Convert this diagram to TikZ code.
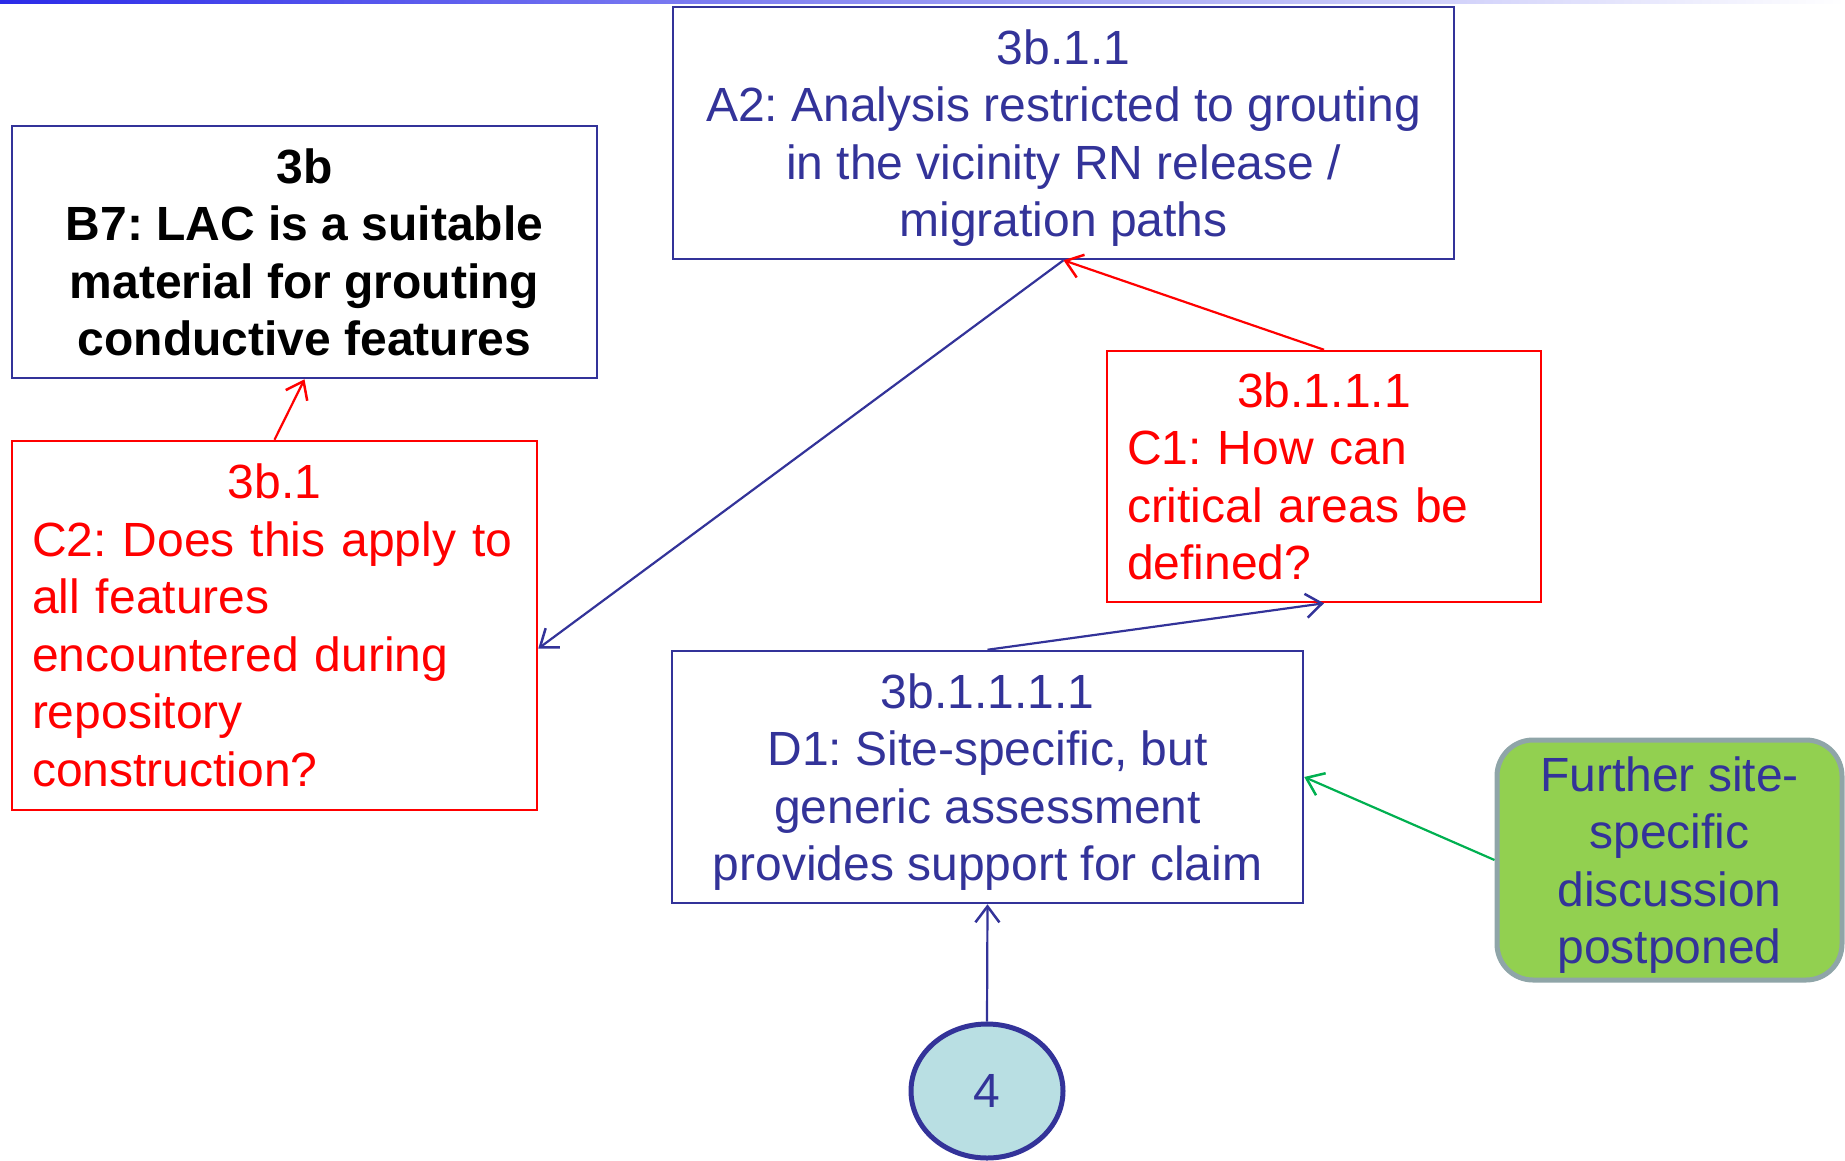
\documentclass[tikz,border=0pt]{standalone}
\usepackage{fontspec}
\setmainfont{Liberation Sans}
\usetikzlibrary{arrows.meta,shapes.geometric}
\definecolor{pblue}{HTML}{333399}
\definecolor{pred}{HTML}{FF0000}
\definecolor{pgreen}{HTML}{00B050}
\definecolor{gfill}{HTML}{92D050}
\definecolor{gborder}{HTML}{8FA5A8}
\definecolor{efill}{HTML}{B9DFE3}
\definecolor{topblue}{HTML}{2B2BE8}
\tikzset{
  txt/.style={font=\fontsize{48}{57.5}\selectfont},
  ctxt/.style={txt,text depth=0pt},
  bluebox/.style={ctxt,draw=pblue,line width=2.5pt,text=pblue,inner sep=0pt,align=center},
  blackbox/.style={ctxt,draw=pblue,line width=2.5pt,text=black,inner sep=0pt,align=center,font=\fontsize{48}{57.5}\selectfont\bfseries},
  redbox/.style={txt,draw=pred,line width=2.5pt,text=pred,inner xsep=20pt,inner ysep=0pt,align=left},
  greenbox/.style={ctxt,draw=gborder,line width=5pt,fill=gfill,text=pblue,rounded corners=36pt,inner sep=0pt,align=center},
  circ/.style={ctxt,ellipse,draw=pblue,line width=5pt,fill=efill,text=pblue,inner sep=0pt},
  arr/.style={-{Straight Barb[length=16pt,width=24pt,line width=2.5pt]},line width=2.2pt},
}
\frenchspacing
\begin{document}
\begin{tikzpicture}[x=1pt,y=-1pt]
\useasboundingbox (0,0) rectangle (1845,1160);
\shade[left color=topblue,right color=white] (0,0) rectangle (1845,3);

\node[bluebox,minimum width=781pt,minimum height=252pt] (A2) at (1063.5,133)
  {\frenchspacing 3b.1.1\\A2: Analysis restricted to grouting\\in the vicinity RN release /\\migration paths};
\node[blackbox,minimum width=585pt,minimum height=252pt] (B7) at (304.5,252)
  {\frenchspacing 3b\\B7: LAC is a suitable\\material for grouting\\conductive features};
\node[redbox,text width=485pt,minimum height=369pt] (C2) at (274.5,625.5)
  {\frenchspacing\makebox[\hsize]{3b.1}\\C2: Does this apply to\\all features\\encountered during\\repository\\construction?};
\node[redbox,text width=394pt,minimum height=251pt] (C1) at (1324,476.5)
  {\frenchspacing\makebox[\hsize]{3b.1.1.1}\\C1: How can\\critical areas be\\defined?};
\node[bluebox,minimum width=631pt,minimum height=252pt] (D1) at (987.5,777)
  {\frenchspacing 3b.1.1.1.1\\D1: Site-specific, but\\generic assessment\\provides support for claim};
\node[greenbox,minimum width=345pt,minimum height=240pt] (G) at (1669.5,860)
  {Further site-\\specific\\discussion\\postponed};
\node[circ,minimum width=152pt,minimum height=134pt] (E) at (987,1091) {4};

\draw[arr,pred] (C2.north) -- (B7.south);
\draw[arr,pblue] (A2.south) -- (C2.-5);
\draw[arr,pred] (C1.north) -- (A2.south);
\draw[arr,pblue] (D1.north) -- (C1.south);
\draw[arr,pgreen] (G.west) -- (D1.east);
\draw[arr,pblue] (E.north) -- (D1.south);
\end{tikzpicture}
\end{document}
